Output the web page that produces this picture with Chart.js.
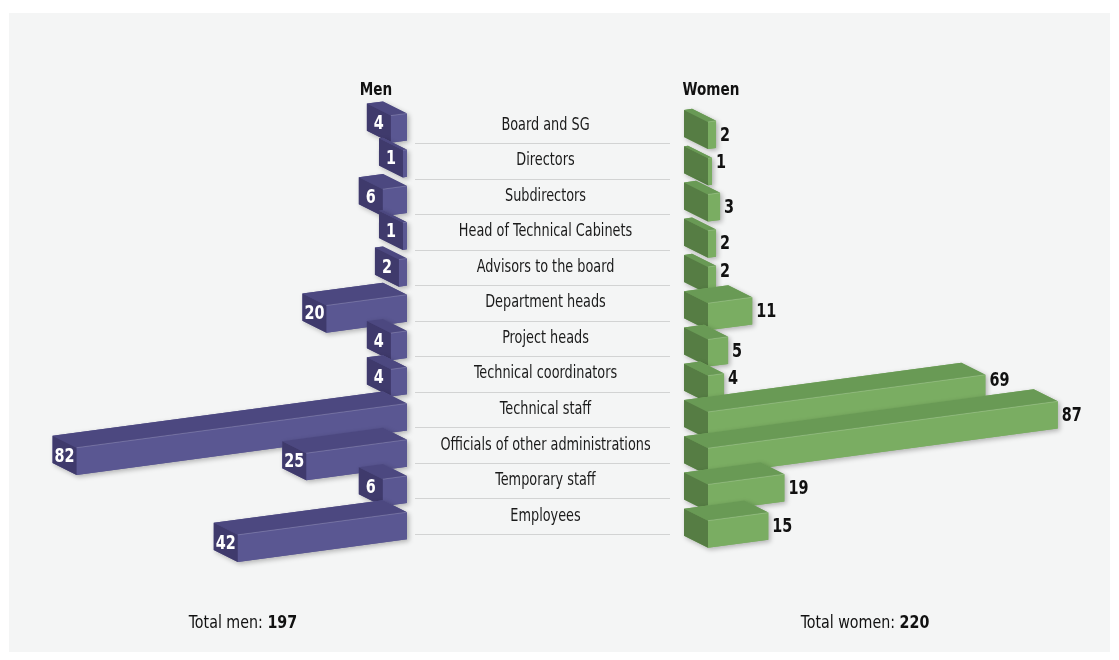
<!DOCTYPE html>
<html>
<head>
<meta charset="utf-8">
<script src="https://cdn.jsdelivr.net/npm/chart.js@4.4.1/dist/chart.umd.min.js"></script>
<style>
  html, body { margin: 0; padding: 0; background: #ffffff; }
  #page { position: relative; width: 1119px; height: 660px; overflow: hidden; }
  #panel { position: absolute; left: 9px; top: 13px; width: 1101px; height: 639px; background: #f4f5f5; }
  canvas { position: absolute; left: 0; top: 0; }
  .txt {
    position: absolute; white-space: nowrap; color: #111;
    font-family: "Liberation Sans Narrow", "DejaVu Sans Condensed", sans-serif;
  }
  .head { font-weight: bold; font-size: 18px; transform: translate(-50%, -50%) scaleX(0.84); }
  .total { font-size: 18px; transform: translate(-50%, -50%) scaleX(0.88); }
  .total b { font-weight: bold; }
</style>
</head>
<body>
<div id="page">
  <div id="panel"></div>
  <canvas id="menChart" width="1119" height="660"></canvas>
  <canvas id="rowChart" width="1119" height="660"></canvas>
  <canvas id="womenChart" width="1119" height="660"></canvas>
  <div class="txt head" id="menHead" style="left:376px; top:88px;">Men</div>
  <div class="txt head" id="womenHead" style="left:711px; top:88px;">Women</div>
  <div class="txt total" id="menTotal" style="left:243px; top:621px;"></div>
  <div class="txt total" id="womenTotal" style="left:865px; top:621px;"></div>
</div>
<script>
// Staff positions, men and women per category
const categories = [
  "Board and SG",
  "Directors",
  "Subdirectors",
  "Head of Technical Cabinets",
  "Advisors to the board",
  "Department heads",
  "Project heads",
  "Technical coordinators",
  "Technical staff",
  "Officials of other administrations",
  "Temporary staff",
  "Employees"
];
const menValues   = [4, 1, 6, 1, 2, 20, 4, 4, 82, 25, 6, 42];
const womenValues = [2, 1, 3, 2, 2, 11, 5, 4, 69, 87, 19, 15];

const menTotal = menValues.reduce((a, b) => a + b, 0);
const womenTotal = womenValues.reduce((a, b) => a + b, 0);
document.getElementById('menTotal').innerHTML = 'Total men: <b>' + menTotal + '</b>';
document.getElementById('womenTotal').innerHTML = 'Total women: <b>' + womenTotal + '</b>';

// Oblique box look: depth offset and tilt of the long faces
const DEPTH_X = 24, DEPTH_Y = 12, TILT = 0.134;
const FONT = '"Liberation Sans Narrow", "DejaVu Sans Condensed", sans-serif';

function drawText(ctx, text, x, y, font, color, align, sx) {
  ctx.save();
  ctx.font = font;
  ctx.fillStyle = color;
  ctx.textAlign = align;
  ctx.textBaseline = 'middle';
  ctx.translate(x, y);
  ctx.scale(sx, 1);
  ctx.fillText(text, 0, 0);
  ctx.restore();
}

function poly(ctx, pts) {
  ctx.moveTo(pts[0][0], pts[0][1]);
  for (let k = 1; k < pts.length; k++) ctx.lineTo(pts[k][0], pts[k][1]);
  ctx.closePath();
}

// Draws each bar element as a tilted 3D box, rows from top to bottom
function boxPlugin(side, colors) {
  return {
    id: 'box3d_' + side,
    afterDatasetsDraw(chart) {
      const ctx = chart.ctx;
      const meta = chart.getDatasetMeta(0);
      const values = chart.data.datasets[0].data;
      meta.data.forEach((el, i) => {
        const p = el.getProps(['x', 'y', 'base', 'height'], true);
        const x0 = p.base, x1 = p.x;
        const L = Math.abs(x1 - x0);
        const drop = side === 'men' ? TILT * L : -TILT * L;
        const yT0 = p.y - p.height / 2, yB0 = p.y + p.height / 2;
        const yT1 = yT0 + drop, yB1 = yB0 + drop;

        const front = [[x0, yT0], [x1, yT1], [x1, yB1], [x0, yB0]];
        const top = [[x0, yT0], [x1, yT1], [x1 - DEPTH_X, yT1 - DEPTH_Y], [x0 - DEPTH_X, yT0 - DEPTH_Y]];
        const sx = side === 'men' ? x1 : x0;
        const sT = side === 'men' ? yT1 : yT0;
        const sB = side === 'men' ? yB1 : yB0;
        const end = [[sx, sT], [sx - DEPTH_X, sT - DEPTH_Y], [sx - DEPTH_X, sB - DEPTH_Y], [sx, sB]];

        // soft drop shadow of the whole box
        ctx.save();
        ctx.shadowColor = 'rgba(0,0,0,0.28)';
        ctx.shadowBlur = 5;
        ctx.shadowOffsetX = 2;
        ctx.shadowOffsetY = 2;
        ctx.fillStyle = colors.front;
        ctx.beginPath();
        poly(ctx, front); poly(ctx, top); poly(ctx, end);
        ctx.fill();
        ctx.restore();

        ctx.save();
        ctx.fillStyle = colors.top;   ctx.beginPath(); poly(ctx, top);   ctx.fill();
        ctx.fillStyle = colors.front; ctx.beginPath(); poly(ctx, front); ctx.fill();
        ctx.fillStyle = colors.end;   ctx.beginPath(); poly(ctx, end);   ctx.fill();
        // faint highlight along the front top edge
        ctx.strokeStyle = 'rgba(255,255,255,0.18)';
        ctx.lineWidth = 1;
        ctx.beginPath(); ctx.moveTo(x0, yT0); ctx.lineTo(x1, yT1); ctx.stroke();
        ctx.restore();

        const v = values[i];
        if (side === 'men') {
          drawText(ctx, String(v), x1 - DEPTH_X / 2, (yT1 + yB1) / 2 - DEPTH_Y / 2 + 1,
                   'bold 20px ' + FONT, '#ffffff', 'center', 0.8);
        } else {
          const next = values[i + 1];
          const lift = (next !== undefined && next > v) ? 9 : 0;
          drawText(ctx, String(v), x1 + 4, (yT1 + yB1) / 2 - lift + 1,
                   'bold 20px ' + FONT, '#111111', 'left', 0.8);
        }
      });
    }
  };
}

// Category names and separators in the middle column
const rowPlugin = {
  id: 'rowLabels',
  afterDraw(chart) {
    const ctx = chart.ctx;
    const ys = chart.scales.y;
    const { left, right } = chart.chartArea;
    const half = ys.height / categories.length / 2;
    ctx.save();
    ctx.strokeStyle = '#d2d3d3';
    ctx.lineWidth = 1;
    ys.ticks.forEach((t, i) => {
      const yc = ys.getPixelForTick(i);
      const yl = Math.round(yc + half) + 0.5;
      ctx.beginPath(); ctx.moveTo(left, yl); ctx.lineTo(right, yl); ctx.stroke();
      drawText(ctx, ys.getLabelForValue(t.value), (left + right) / 2 + 3, yc,
               '17px ' + FONT, '#1a1a1a', 'center', 0.84);
    });
    ctx.restore();
  }
};

const common = {
  responsive: false,
  animation: false,
  devicePixelRatio: 1,
  indexAxis: 'y',
  events: [],
  plugins: { legend: { display: false }, tooltip: { enabled: false }, title: { display: false } }
};

new Chart(document.getElementById('menChart'), {
  type: 'bar',
  data: {
    labels: categories,
    datasets: [{ data: menValues, backgroundColor: 'rgba(0,0,0,0)', borderWidth: 0,
                 categoryPercentage: 1, barPercentage: 0.75 }]
  },
  options: Object.assign({}, common, {
    layout: { padding: { left: 4, right: 712, top: 108.9, bottom: 116.1 } },
    scales: {
      x: { type: 'linear', min: 0, max: 100, reverse: true, display: false },
      y: { type: 'category', offset: true, display: false }
    }
  }),
  plugins: [boxPlugin('men', { front: '#5a5792', top: '#4c4880', end: '#3f3a6c' })]
});

new Chart(document.getElementById('rowChart'), {
  type: 'bar',
  data: { labels: categories, datasets: [] },
  options: Object.assign({}, common, {
    layout: { padding: { left: 415, right: 449, top: 107.4, bottom: 126 } },
    scales: {
      x: { type: 'linear', min: 0, max: 1, display: false },
      y: { type: 'category', offset: true, display: false }
    }
  }),
  plugins: [rowPlugin]
});

new Chart(document.getElementById('womenChart'), {
  type: 'bar',
  data: {
    labels: categories,
    datasets: [{ data: womenValues, backgroundColor: 'rgba(0,0,0,0)', borderWidth: 0,
                 categoryPercentage: 1, barPercentage: 0.75 }]
  },
  options: Object.assign({}, common, {
    layout: { padding: { left: 708, right: 9, top: 117.4, bottom: 107.6 } },
    scales: {
      x: { type: 'linear', min: 0, max: 100, display: false },
      y: { type: 'category', offset: true, display: false }
    }
  }),
  plugins: [boxPlugin('women', { front: '#7aad62', top: '#699a55', end: '#567d44' })]
});
</script>
</body>
</html>
